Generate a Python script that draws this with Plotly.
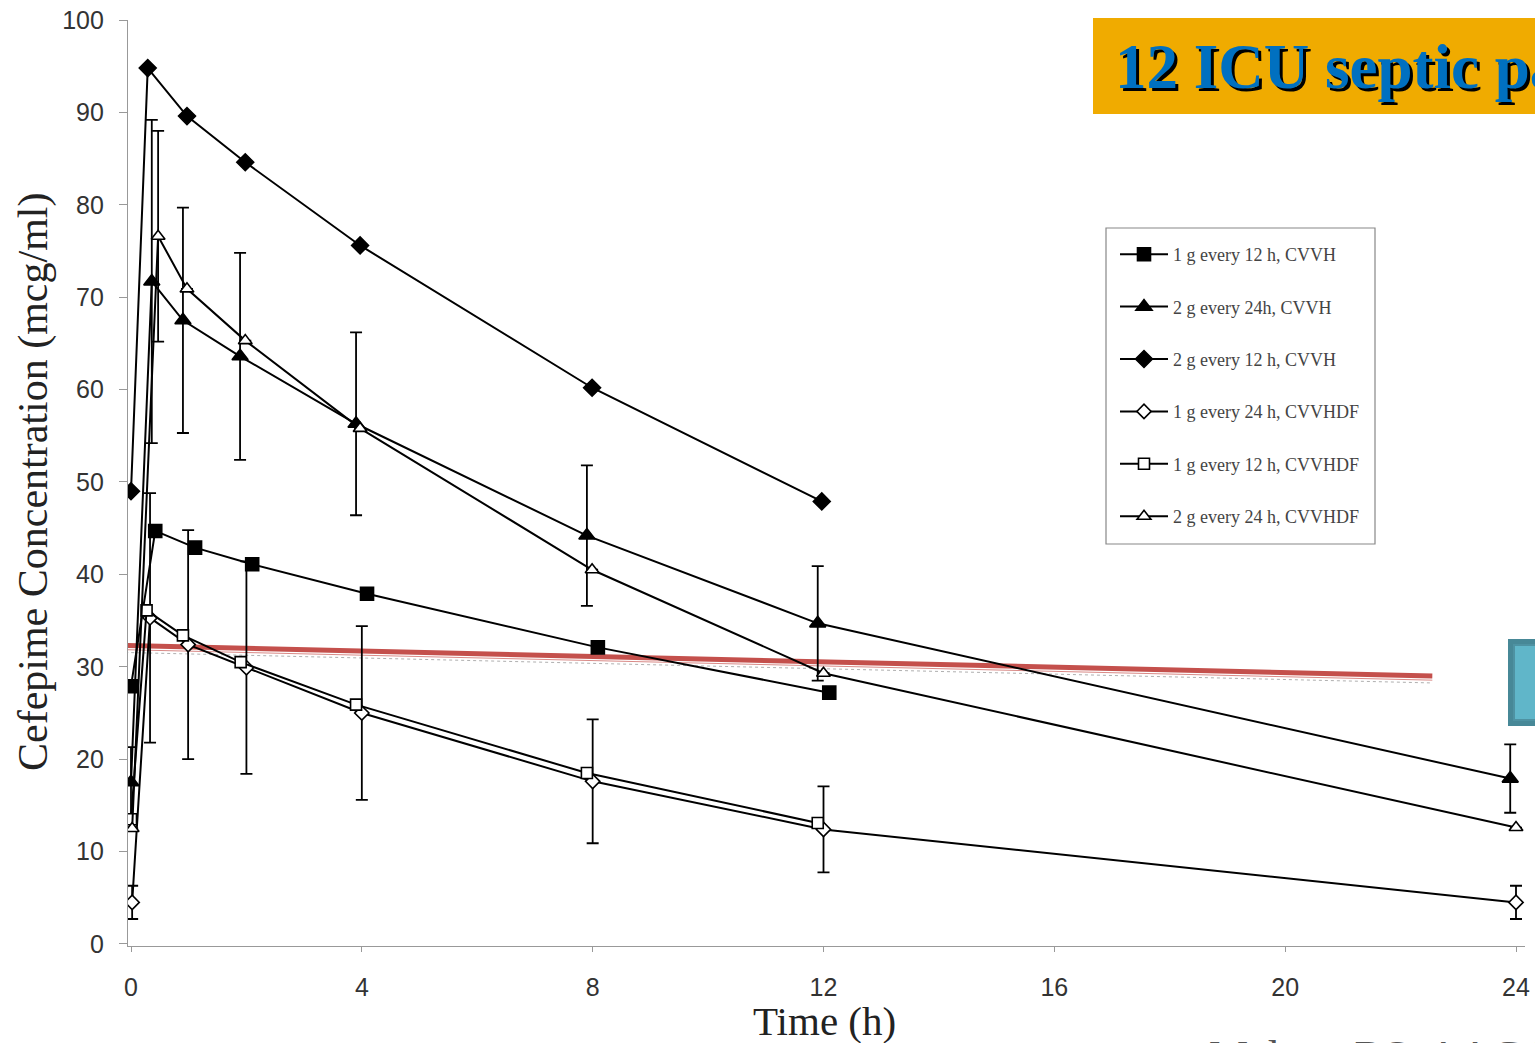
import plotly.graph_objects as go

# ---------------- data ----------------
series_names = [
    "1 g every 12 h, CVVH",
    "2 g every 24h, CVVH",
    "2 g every 12 h, CVVH",
    "1 g every 24 h, CVVHDF",
    "1 g every 12 h, CVVHDF",
    "2 g every 24 h, CVVHDF",
]

sq_fill_x = [0, 0.42, 1.11, 2.1, 4.09, 8.09, 12.1]
sq_fill_y = [27.9, 44.7, 42.9, 41.1, 37.9, 32.1, 27.2]

tri_fill_x = [0, 0.36, 0.9, 1.89, 3.9, 7.9, 11.9, 23.9]
tri_fill_y = [17.5, 71.7, 67.5, 63.6, 56.3, 44.2, 34.7, 17.9]
tri_fill_err = [3.8, 17.5, 12.2, 11.2, 9.9, 7.6, 6.2, 3.7]

dia_fill_x = [0, 0.29, 0.97, 1.98, 3.97, 7.99, 11.97]
dia_fill_y = [49.0, 94.8, 89.6, 84.6, 75.6, 60.2, 47.9]

dia_open_x = [0.02, 0.33, 0.99, 2.0, 4.0, 8.0, 12.0, 24.0]
dia_open_y = [4.5, 35.3, 32.4, 29.9, 25.0, 17.6, 12.4, 4.5]
dia_open_err = [1.8, 13.5, 12.4, 11.5, 9.4, 6.7, 4.65, 1.8]

sq_open_x = [0, 0.27, 0.9, 1.9, 3.9, 7.9, 11.9]
sq_open_y = [13.5, 36.1, 33.4, 30.5, 25.9, 18.5, 13.1]

tri_open_x = [0.02, 0.47, 0.97, 1.98, 3.97, 7.99, 12.0, 24.0]
tri_open_y = [12.5, 76.6, 70.9, 65.3, 55.8, 40.5, 29.3, 12.6]
tri_open_err = [None, 11.4, None, None, None, None, None, None]

threshold_x = [-0.1, 22.55]
threshold_y = [32.3, 29.0]

x_ticks = [0, 4, 8, 12, 16, 20, 24]
y_ticks = [0, 10, 20, 30, 40, 50, 60, 70, 80, 90, 100]

title_text = "12 ICU septic patients"
citation_text = "Malone RS, AAC 2001"

# ---------------- figure ----------------
W, H = 1535, 1043
L, R, T, B = 128, 1525, 20, 946


def px(xp):
    return (xp - L) / (R - L)


def py(yp):
    return (B - yp) / (B - T)


fig = go.Figure()

# threshold (red) line with its faint under-lines
fig.add_trace(go.Scatter(x=threshold_x, y=[v - 0.75 for v in threshold_y], mode="lines",
                         line=dict(color="#b0b0b0", width=1, dash="dot"), showlegend=False, hoverinfo="skip"))
fig.add_trace(go.Scatter(x=threshold_x, y=[v - 0.45 for v in threshold_y], mode="lines",
                         line=dict(color="#d98a87", width=1), showlegend=False, hoverinfo="skip"))
fig.add_trace(go.Scatter(x=threshold_x, y=threshold_y, mode="lines",
                         line=dict(color="#C4504C", width=5), showlegend=False, hoverinfo="skip"))

line_style = dict(color="black", width=2)
err_style = dict(type="data", visible=True, color="black", thickness=1.8, width=6)

specs = [
    (series_names[0], sq_fill_x, sq_fill_y, None, "square", "black", 13),
    (series_names[1], tri_fill_x, tri_fill_y, tri_fill_err, "triangle-up", "black", 14),
    (series_names[2], dia_fill_x, dia_fill_y, None, "diamond", "black", 13),
    (series_names[3], dia_open_x, dia_open_y, dia_open_err, "diamond", "white", 11),
    (series_names[4], sq_open_x, sq_open_y, None, "square", "white", 11),
    (series_names[5], tri_open_x, tri_open_y, tri_open_err, "triangle-up", "white", 12),
]

for i, (name, xs, ys, err, sym, fill, size) in enumerate(specs):
    kw = {}
    if err is not None:
        kw["error_y"] = dict(array=err, **err_style)
    fig.add_trace(go.Scatter(
        x=xs, y=ys, name=name, mode="lines+markers",
        line=line_style,
        marker=dict(symbol=sym, color=fill, size=size, line=dict(color="black", width=1.6)),
        legendgroup=f"g{i}",
        **kw,
    ))

# decorations: title box, teal box, legend frame
fig.add_shape(type="rect", xref="paper", yref="paper",
              x0=px(1093), x1=px(1545), y0=py(114), y1=py(18),
              fillcolor="#F0AB00", line=dict(width=0), layer="below")
fig.add_shape(type="rect", xref="paper", yref="paper",
              x0=px(1508), x1=px(1545), y0=py(726), y1=py(639),
              fillcolor="#478897", line=dict(width=0))
fig.add_shape(type="rect", xref="paper", yref="paper",
              x0=px(1514), x1=px(1545), y0=py(720), y1=py(645),
              fillcolor="#60B6C9", line=dict(color="#4E92A2", width=2))
fig.add_shape(type="rect", xref="paper", yref="paper",
              x0=px(1106), x1=px(1375), y0=py(544), y1=py(228),
              fillcolor="white", line=dict(color="#888", width=1.2), layer="above")

annotations = [
    dict(text=title_text, x=px(1113), y=py(67), xanchor="left", yanchor="middle",
         xref="paper", yref="paper", showarrow=False, xshift=2.5, yshift=-2.5,
         font=dict(family="Liberation Serif", size=63, color="black", weight="bold")),
    dict(text=title_text, x=px(1113), y=py(67), xanchor="left", yanchor="middle",
         xref="paper", yref="paper", showarrow=False,
         font=dict(family="Liberation Serif", size=63, color="#0070C0", weight="bold")),
    dict(text="Cefepime Concentration (mcg/ml)", x=px(33), y=py(482), xanchor="center", yanchor="middle",
         xref="paper", yref="paper", showarrow=False, textangle=-90,
         font=dict(family="Liberation Serif", size=42, color="#222")),
    dict(text="Time (h)", x=px(824), y=py(1021), xanchor="center", yanchor="middle",
         xref="paper", yref="paper", showarrow=False,
         font=dict(family="Liberation Serif", size=41, color="#222")),
    dict(text=citation_text, x=px(1207), y=py(1030), xanchor="left", yanchor="top",
         xref="paper", yref="paper", showarrow=False,
         font=dict(family="Liberation Serif", size=44, color="#555")),
]

fig.update_layout(
    width=W, height=H,
    margin=dict(l=L, r=W - R, t=T, b=H - B, pad=0, autoexpand=False),
    paper_bgcolor="white", plot_bgcolor="white",
    showlegend=True,
    legend=dict(x=px(1115), y=py(236), xanchor="left", yanchor="top",
                bgcolor="rgba(0,0,0,0)", borderwidth=0,
                font=dict(family="Liberation Serif", size=18, color="#444"),
                tracegroupgap=26, traceorder="grouped", itemwidth=48),
    annotations=annotations,
    xaxis=dict(range=[-0.052, 24.156], tickvals=x_ticks, ticktext=[str(v) for v in x_ticks],
               showgrid=False, zeroline=False, showline=True, linecolor="#999", linewidth=1.2,
               ticks="outside", ticklen=5, tickcolor="#999", ticklabelstandoff=14, automargin=False,
               tickfont=dict(family="Liberation Sans", size=25, color="#333")),
    yaxis=dict(range=[-0.22, 100], tickvals=y_ticks, ticktext=[str(v) for v in y_ticks],
               showgrid=False, zeroline=False, showline=True, linecolor="#999", linewidth=1.2,
               ticks="outside", ticklen=8, tickcolor="#999", ticklabelstandoff=10, automargin=False,
               tickfont=dict(family="Liberation Sans", size=25, color="#333")),
)

fig.write_html("out.html")
